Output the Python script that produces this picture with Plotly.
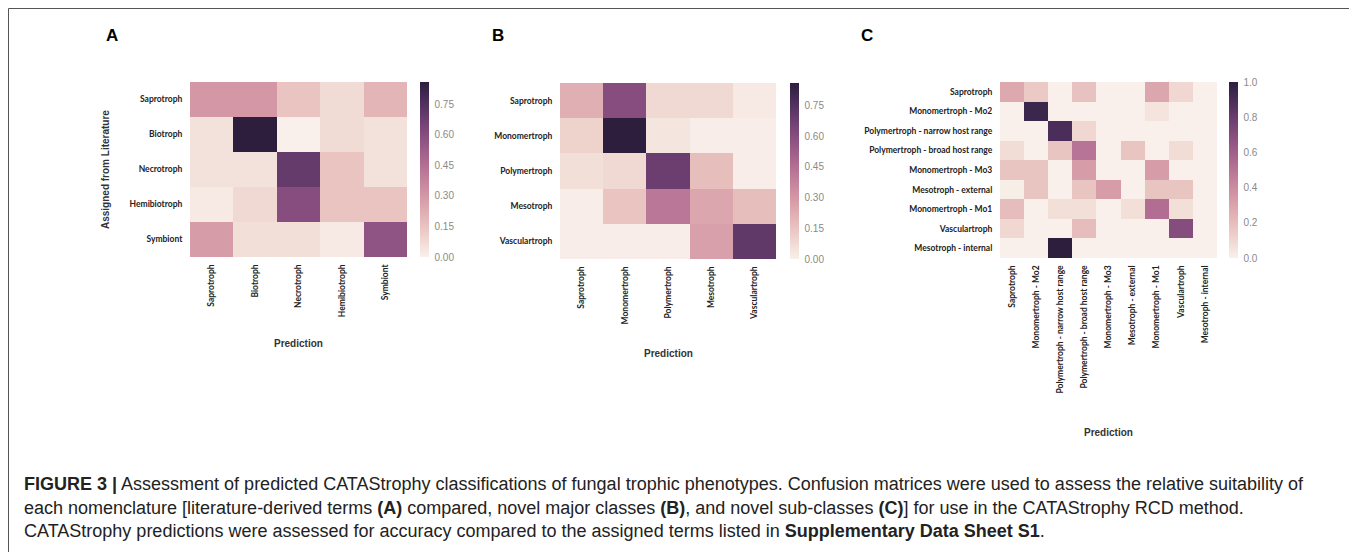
import numpy as np
import plotly.graph_objects as go

W, H = 1357, 552
OFF = 8  # browser default body margin

# ---------------- data ----------------
labels_a = ["Saprotroph", "Biotroph", "Necrotroph", "Hemibiotroph", "Symbiont"]
values_a = [
    [0.30, 0.30, 0.15, 0.07, 0.20],
    [0.05, 0.86, 0.00, 0.07, 0.05],
    [0.05, 0.05, 0.70, 0.15, 0.05],
    [0.02, 0.08, 0.60, 0.15, 0.15],
    [0.28, 0.06, 0.06, 0.02, 0.57],
]

labels_b = ["Saprotroph", "Monomertroph", "Polymertroph", "Mesotroph", "Vasculartroph"]
values_b = [
    [0.22, 0.60, 0.08, 0.08, 0.02],
    [0.10, 0.86, 0.04, 0.01, 0.01],
    [0.06, 0.08, 0.68, 0.17, 0.01],
    [0.01, 0.15, 0.42, 0.25, 0.17],
    [0.01, 0.01, 0.01, 0.27, 0.71],
]

labels_c = ["Saprotroph", "Monomertroph - Mo2", "Polymertroph - narrow host range",
            "Polymertroph - broad host range", "Monomertroph - Mo3", "Mesotroph - external",
            "Monomertroph - Mo1", "Vasculartroph", "Mesotroph - internal"]
values_c = [
    [0.28, 0.15, 0.00, 0.18, 0.00, 0.00, 0.29, 0.10, 0.00],
    [0.00, 0.95, 0.00, 0.00, 0.00, 0.00, 0.05, 0.00, 0.00],
    [0.00, 0.00, 0.90, 0.10, 0.00, 0.00, 0.00, 0.00, 0.00],
    [0.08, 0.00, 0.17, 0.50, 0.00, 0.17, 0.00, 0.08, 0.00],
    [0.17, 0.17, 0.00, 0.33, 0.00, 0.00, 0.33, 0.00, 0.00],
    [0.01, 0.17, 0.00, 0.17, 0.33, 0.00, 0.17, 0.17, 0.00],
    [0.20, 0.00, 0.07, 0.07, 0.00, 0.07, 0.53, 0.07, 0.00],
    [0.10, 0.00, 0.00, 0.20, 0.00, 0.00, 0.00, 0.70, 0.00],
    [0.00, 0.00, 1.00, 0.00, 0.00, 0.00, 0.00, 0.00, 0.00],
]

ticks_ab = [0.00, 0.15, 0.30, 0.45, 0.60, 0.75]
ticks_c = [0.0, 0.2, 0.4, 0.6, 0.8, 1.0]

panel_letters = ["A", "B", "C"]
x_title = "Prediction"
y_title = "Assigned from Literature"

# ---------------- colour scale (seaborn cubehelix_palette(light=.95)) ----------------
def cubehelix_scale(n=21, start=0.0, rot=0.4, hue=0.8, gamma=1.0, light=0.95, dark=0.15):
    coeffs = [(-0.14861, 1.78277), (-0.29227, -0.90649), (1.97294, 0.0)]
    scale = []
    for i, x in enumerate(np.linspace(light, dark, n)):
        xg = x ** gamma
        a = hue * xg * (1 - xg) / 2
        phi = 2 * np.pi * (start / 3 + rot * x)
        rgb = [min(1, max(0, xg + a * (p0 * np.cos(phi) + p1 * np.sin(phi)))) for p0, p1 in coeffs]
        scale.append([i / (n - 1), "rgb(%d,%d,%d)" % tuple(int(round(c * 255)) for c in rgb)])
    return scale

cs = cubehelix_scale()

FW, FH = W - OFF, H - OFF

def px_x(p):
    return (p - OFF) / FW

def px_y(p):
    return 1 - (p - OFF) / FH

panels = [
    dict(labels=labels_a, values=values_a, x=(190, 407), y=(82, 257), cb=420,
         ticks=ticks_ab, fmt=".2f", letter_x=112, title_y=343),
    dict(labels=labels_b, values=values_b, x=(560, 776), y=(83, 259), cb=790,
         ticks=ticks_ab, fmt=".2f", letter_x=498, title_y=353),
    dict(labels=labels_c, values=values_c, x=(1000, 1217), y=(82, 258), cb=1229,
         ticks=ticks_c, fmt=".1f", letter_x=867, title_y=432),
]

fig = go.Figure()
layout = dict(
    width=FW, height=FH,
    margin=dict(l=0, r=0, t=0, b=0),
    paper_bgcolor="white", plot_bgcolor="white",
    showlegend=False,
)
annotations = []
tickfont = dict(family="Lato", size=8.5, color="#222222", weight="bold")

for i, p in enumerate(panels):
    k = "" if i == 0 else str(i + 1)
    z = np.array(p["values"])
    y0, y1 = px_y(p["y"][1]), px_y(p["y"][0])
    fig.add_trace(go.Heatmap(
        z=z, x=p["labels"], y=p["labels"],
        xaxis="x" + k, yaxis="y" + k,
        colorscale=cs, zmin=0, zmax=float(z.max()),
        colorbar=dict(
            x=px_x(p["cb"]), xanchor="left", xref="paper", xpad=0, ypad=0,
            y=(y0 + y1) / 2, yanchor="middle", len=y1 - y0, lenmode="fraction",
            thickness=9, outlinewidth=0,
            tickvals=p["ticks"], tickformat=p["fmt"],
            ticks="outside", ticklen=4, tickcolor="rgba(0,0,0,0)",
            tickfont=dict(family="Liberation Sans", size=10, color="#8a8a8a"),
        ),
        hoverinfo="skip",
    ))
    layout["xaxis" + k] = dict(
        domain=[px_x(p["x"][0]), px_x(p["x"][1])], anchor="y" + k,
        tickangle=-90, tickfont=tickfont, showgrid=False, zeroline=False,
        showline=False, ticks="outside", ticklen=3, tickcolor="rgba(0,0,0,0)",
        fixedrange=True,
    )
    layout["yaxis" + k] = dict(
        domain=[y0, y1], anchor="x" + k, autorange="reversed",
        tickfont=tickfont, showgrid=False, zeroline=False, showline=False,
        ticks="outside", ticklen=5, tickcolor="rgba(0,0,0,0)", fixedrange=True,
    )
    annotations.append(dict(
        text="<b>%s</b>" % panel_letters[i], x=px_x(p["letter_x"]), y=px_y(35),
        xref="paper", yref="paper", showarrow=False, xanchor="center", yanchor="middle",
        font=dict(family="Liberation Sans", size=17, color="black"),
    ))
    annotations.append(dict(
        text="<b>%s</b>" % x_title, x=px_x((p["x"][0] + p["x"][1]) / 2), y=px_y(p["title_y"]),
        xref="paper", yref="paper", showarrow=False, xanchor="center", yanchor="middle",
        font=dict(family="Liberation Sans", size=10, color="#333333"),
    ))

annotations.append(dict(
    text="<b>%s</b>" % y_title, x=px_x(105), y=px_y(170), textangle=-90,
    xref="paper", yref="paper", showarrow=False, xanchor="center", yanchor="middle",
    font=dict(family="Liberation Sans", size=10, color="#333333"),
))

caption_lines = [
    "<b>FIGURE 3 |</b> Assessment of predicted CATAStrophy classifications of fungal trophic phenotypes. "
    "Confusion matrices were used to assess the relative suitability of",
    "each nomenclature [literature-derived terms <b>(A)</b> compared, novel major classes <b>(B)</b>, "
    "and novel sub-classes <b>(C)</b>] for use in the CATAStrophy RCD method.",
    "CATAStrophy predictions were assessed for accuracy compared to the assigned terms listed in "
    "<b>Supplementary Data Sheet S1</b>.",
]
for j, line in enumerate(caption_lines):
    annotations.append(dict(
        text=line, x=px_x(22), y=px_y(484 + 23.5 * j), xref="paper", yref="paper",
        showarrow=False, xanchor="left", yanchor="middle",
        font=dict(family="Liberation Sans", size=18, color="#222222"),
    ))

layout["annotations"] = annotations
line_style = dict(color="#555555", width=1)
layout["shapes"] = [
    dict(type="line", xref="paper", yref="paper", x0=px_x(8.5), x1=px_x(1351.5),
         y0=px_y(8.5), y1=px_y(8.5), line=line_style),
    dict(type="line", xref="paper", yref="paper", x0=px_x(8.5), x1=px_x(8.5),
         y0=px_y(8.5), y1=0, line=line_style),
    dict(type="line", xref="paper", yref="paper", x0=px_x(1351.5), x1=px_x(1351.5),
         y0=px_y(8.5), y1=0, line=line_style),
]
fig.update_layout(**layout)
fig.write_html("out.html")
